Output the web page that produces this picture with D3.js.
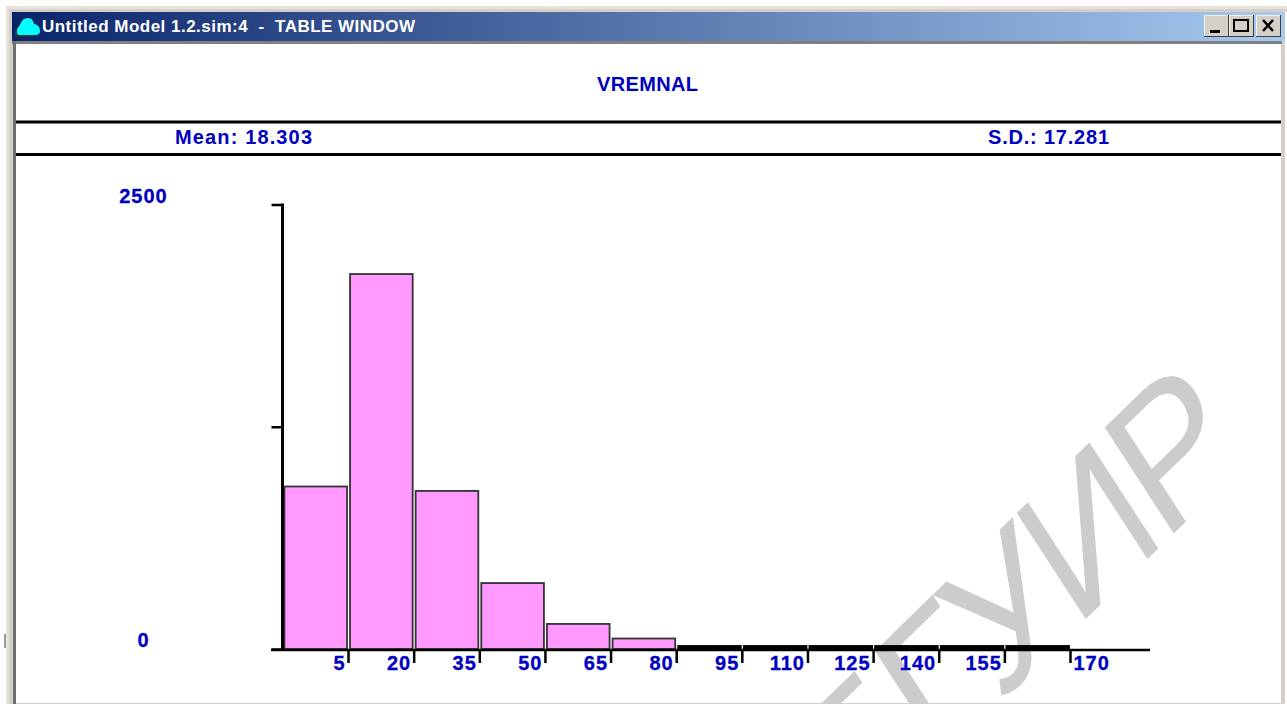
<!DOCTYPE html>
<html>
<head>
<meta charset="utf-8">
<script src="https://cdn.jsdelivr.net/npm/d3@7"></script>
<style>
html, body { margin: 0; padding: 0; background: #fff; overflow: hidden; }
text { font-family: "Liberation Sans", Arial, sans-serif; }
.blue { fill: #0000c0; font-weight: bold; font-size: 20px; }
.tick text.blue { letter-spacing: 1px; stroke: #0000c0; stroke-width: 0.3px; }
</style>
</head>
<body>
<svg id="chart" width="1287" height="704"></svg>
<script>
'use strict';

// Histogram bins
const binStarts = [-10, 5, 20, 35, 50, 65, 80, 95, 110, 125, 140, 155];
const binWidth = 15;
const counts = [914, 2109, 889, 371, 141, 59, 17, 17, 17, 17, 17, 17];

const xTicks = [5, 20, 35, 50, 65, 80, 95, 110, 125, 140, 155, 170];
const yTicks = [0, 1250, 2500];
const yLabels = [2500, 0];

const windowTitle = "Untitled Model 1.2.sim:4  -  TABLE WINDOW";
const chartTitle = "VREMNAL";
const meanLabel = "Mean: 18.303";
const sdLabel = "S.D.: 17.281";
const watermark = "БГУИР";

const svg = d3.select("#chart");
const defs = svg.append("defs");

const grad = defs.append("linearGradient").attr("id", "titlebar");
grad.append("stop").attr("offset", 0).attr("stop-color", "#0a246a");
grad.append("stop").attr("offset", 1).attr("stop-color", "#a6caf0");

// Window frame
function box(x, y, w, h, fill) {
    return svg.append("rect").attr("x", x).attr("y", y).attr("width", w).attr("height", h).attr("fill", fill);
}
box(0, 0, 1287, 704, "#fff");
box(6, 6, 1281, 698, "#e6e3da");
box(9, 9, 1278, 695, "#d4d0c8");
box(12, 12, 1273, 29, "url(#titlebar)");
box(12, 41, 1270, 3, "#808080");
box(13, 41, 3, 663, "#707070");
box(16, 44, 1265, 659, "#fff");
box(1285, 12, 2, 692, "#fff");

// Watermark, sits under everything in the client area
// the source scan is stretched, so the glyphs are sheared and not only rotated
svg.append("text")
    .attr("transform", "matrix(0.76,-0.74,0.583,0.897,1244,465)")
    .attr("text-anchor", "end")
    .attr("font-size", 172)
    .attr("letter-spacing", -8)
    .attr("fill", "#cccccc")
    .text(watermark);

// Title bar text and icon
const cloud = "M18,35 Q15,30 20,25 Q22,18 28,18 Q33,18 34,24 Q40,25 40,31 Q40,35 35,35 Z";
svg.append("path").attr("d", cloud).attr("transform", "translate(-2,2)").attr("fill", "#333");
svg.append("path").attr("d", cloud).attr("fill", "#00ffff");
svg.append("text")
    .attr("x", 42).attr("y", 32)
    .attr("fill", "#fff")
    .attr("font-size", 17).attr("font-weight", "bold")
    .attr("textLength", 373)
    .attr("xml:space", "preserve")
    .text(windowTitle);

// Window buttons
const buttons = [[1204, "min"], [1229, "max"], [1256, "close"]];
buttons.forEach(([bx, kind]) => {
    box(bx, 15, 25, 22, "#404040");
    box(bx, 15, 24, 21, "#f4f2ec");
    box(bx+1, 16, 23, 20, "#d4d0c8");
    if (kind == "min") box(bx+6, 30, 10, 3, "#000");
    if (kind == "max") svg.append("rect").attr("x", bx+5).attr("y", 20).attr("width", 14).attr("height", 11)
        .attr("fill", "none").attr("stroke", "#000").attr("stroke-width", 2);
    if (kind == "close") svg.append("path").attr("d", `M${bx+7},20 L${bx+17},31 M${bx+17},20 L${bx+7},31`)
        .attr("stroke", "#000").attr("stroke-width", 2.5);
});

// Header lines and labels
box(16, 120.5, 1265, 3, "#000");
box(16, 153, 1265, 3, "#000");
svg.append("text").attr("class", "blue").attr("x", 597).attr("y", 91).attr("textLength", 101).text(chartTitle);
svg.append("text").attr("class", "blue").attr("x", 175).attr("y", 144).attr("textLength", 137).text(meanLabel);
svg.append("text").attr("class", "blue").attr("x", 988).attr("y", 144).attr("textLength", 121).text(sdLabel);

// Scales
const x = d3.scaleLinear().domain([-10, 170]).range([282.4, 1070]);
const y = d3.scaleLinear().domain([0, 2500]).range([649, 204.5]);

// Bars
svg.append("g").selectAll("rect").data(binStarts).join("rect")
    .attr("x", d => x(d) + 2)
    .attr("y", (d, i) => y(counts[i]))
    .attr("width", d => x(d + binWidth) - x(d) - 3)
    .attr("height", (d, i) => y(0) - y(counts[i]))
    .attr("fill", d => d < 80 ? "#ff99ff" : "#000")
    .attr("stroke", d => d < 80 ? "#333" : "#000")
    .attr("stroke-width", 1.8);

// Axes
const xAxis = d3.axisBottom(x).tickValues(xTicks).tickSize(13).tickSizeOuter(0).tickFormat(d => d);
const gx = svg.append("g").attr("transform", "translate(0,650)").call(xAxis);
gx.select(".domain").remove();
gx.selectAll(".tick line").attr("stroke", "#000").attr("stroke-width", 2.5);
gx.selectAll(".tick text")
    .attr("class", "blue")
    .attr("fill", null)
    .attr("dy", null)
    .attr("y", 20)
    .attr("x", d => d == 170 ? 3 : -3)
    .attr("text-anchor", d => d == 170 ? "start" : "end");
gx.append("line").attr("x1", 271).attr("x2", 1150).attr("stroke", "#000").attr("stroke-width", 2.5);

const yAxis = d3.axisLeft(y).tickValues(yTicks).tickSize(11).tickSizeOuter(0)
    .tickFormat(d => yLabels.includes(d) ? d : "");
const gy = svg.append("g").attr("transform", "translate(282.5,0)").call(yAxis);
gy.select(".domain").attr("stroke", "#000").attr("stroke-width", 3).attr("d", `M0,${y(2500)-1}V${y(0)}`);
gy.selectAll(".tick line").attr("stroke", "#000").attr("stroke-width", 2.5);
gy.selectAll(".tick text")
    .attr("class", "blue")
    .attr("fill", null)
    .attr("dy", null)
    .attr("text-anchor", "middle")
    .attr("x", -139)
    .attr("y", -2.5);

// Little scan artefact on the left frame
box(4, 634, 2, 14, "#999");
</script>
</body>
</html>
